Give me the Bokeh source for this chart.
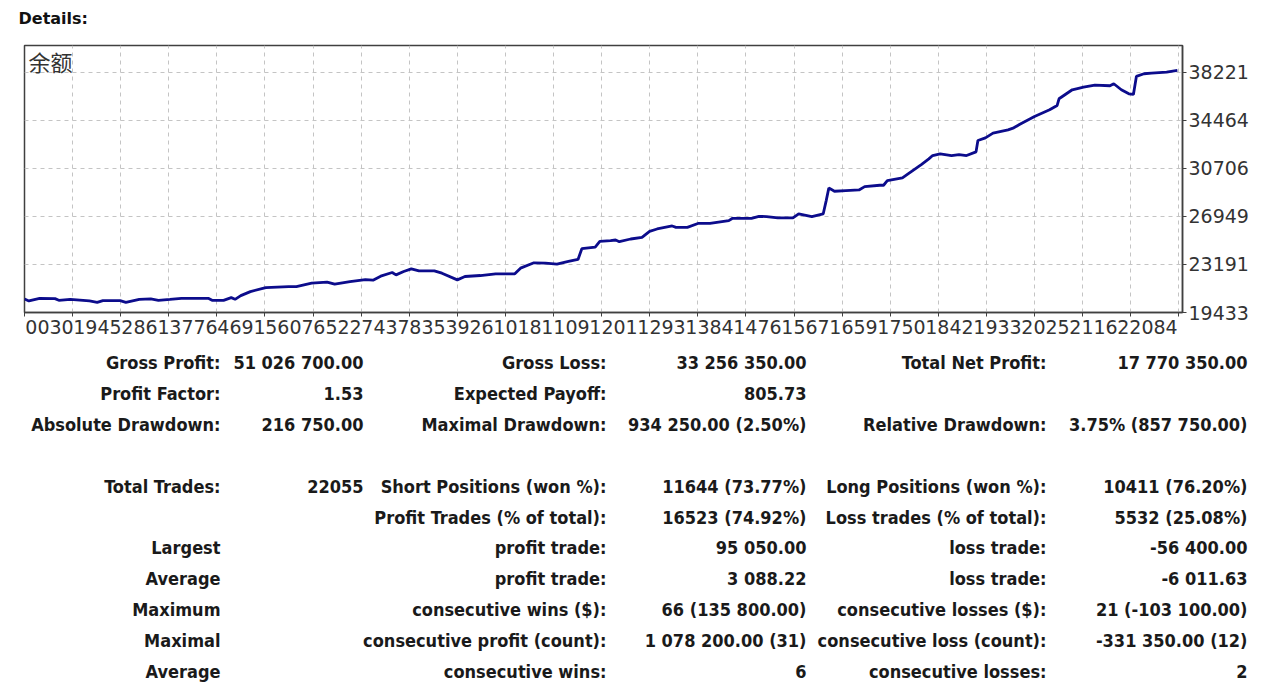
from bokeh.plotting import figure
from bokeh.models import Range1d, FixedTicker, Label, Spacer
from bokeh.layouts import column, row
from bokeh.embed import file_html
from bokeh.resources import INLINE
from bokeh.core.properties import value

# ---------------- data ----------------
trades = [0, 85, 290, 583, 657, 876, 1243, 1390, 1500, 1829, 1939, 2196, 2416, 2562,
          2782, 3002, 3515, 3588, 3808, 3955, 4028, 4138, 4321, 4615, 5054, 5201, 5494,
          5788, 5934, 6227, 6521, 6667, 6814, 7034, 7107, 7254, 7400, 7547, 7840, 7986,
          8280, 8426, 8720, 9013, 9380, 9489, 9746, 9966, 10186, 10406, 10589, 10662,
          10918, 11006, 11212, 11308, 11380, 11597, 11813, 11958, 12102, 12391, 12463,
          12680, 12896, 13113, 13474, 13546, 13907, 14051, 14196, 14412, 14701, 14810,
          15062, 15279, 15337, 15387, 15495, 15712, 15965, 16073, 16362, 16434, 16506,
          16795, 16903, 17156, 17300, 17373, 17517, 17734, 17878, 18022, 18203, 18239,
          18383, 18528, 18816, 18925, 19033, 19322, 19611, 19755, 19791, 20044, 20260,
          20477, 20766, 20838, 20983, 21127, 21214, 21271, 21416, 21560, 21849, 22055]
balance = [20491, 20334, 20543, 20517, 20386, 20464, 20334, 20229, 20360, 20360, 20229,
           20464, 20491, 20386, 20464, 20543, 20543, 20386, 20386, 20595, 20464, 20752,
           21067, 21381, 21459, 21459, 21721, 21800, 21643, 21852, 22009, 21957, 22271,
           22559, 22376, 22637, 22847, 22690, 22690, 22507, 21983, 22245, 22323, 22454,
           22454, 22899, 23318, 23292, 23213, 23423, 23580, 24417, 24548, 24993, 25046,
           25100, 24969, 25178, 25309, 25779, 25961, 26196, 26091, 26091, 26404, 26404,
           26613, 26795, 26795, 26952, 26926, 26822, 26822, 27135, 26926, 27135, 28178,
           29170, 28909, 28961, 29013, 29274, 29378, 29378, 29744, 29953, 30266, 30996,
           31440, 31701, 31831, 31701, 31779, 31701, 31988, 32875, 33084, 33449, 33710,
           33866, 34127, 34753, 35275, 35614, 36136, 36840, 37049, 37206, 37153, 37310,
           36840, 36527, 36475, 37884, 38093, 38145, 38223, 38353]

y_ticks = [19433, 23191, 26949, 30706, 34464, 38221]
x_label_chunks = ["0030", "1945", "2861", "3776", "4691", "5607", "6522", "7437", "8353",
                  "926", "1018", "1109", "1201", "1293", "1384", "1476", "1567", "1659",
                  "1750", "1842", "1933", "2025", "2116", "22084"]
last_x_label = 22084
n_x_intervals = 24

heading = "Details:"
col1_labels = ["Gross Profit:", "Profit Factor:", "Absolute Drawdown:", "", "Total Trades:",
               "", "Largest", "Average", "Maximum", "Maximal", "Average"]
col2_values = ["51 026 700.00", "1.53", "216 750.00", "", "22055", "", "", "", "", "", ""]
col3_labels = ["Gross Loss:", "Expected Payoff:", "Maximal Drawdown:", "",
               "Short Positions (won %):", "Profit Trades (% of total):", "profit trade:",
               "profit trade:", "consecutive wins ($):", "consecutive profit (count):",
               "consecutive wins:"]
col4_values = ["33 256 350.00", "805.73", "934 250.00 (2.50%)", "", "11644 (73.77%)",
               "16523 (74.92%)", "95 050.00", "3 088.22", "66 (135 800.00)",
               "1 078 200.00 (31)", "6"]
col5_labels = ["Total Net Profit:", "", "Relative Drawdown:", "", "Long Positions (won %):",
               "Loss trades (% of total):", "loss trade:", "loss trade:",
               "consecutive losses ($):", "consecutive loss (count):", "consecutive losses:"]
col6_values = ["17 770 350.00", "", "3.75% (857 750.00)", "", "10411 (76.20%)",
               "5532 (25.08%)", "-56 400.00", "-6 011.63", "21 (-103 100.00)",
               "-331 350.00 (12)", "2"]

W = 1264
T_LEFT = 1
T_W = W - 2

# ---------------- heading ----------------
H0 = 37
h = figure(width=T_W, height=H0, x_range=Range1d(T_LEFT, T_LEFT + T_W), y_range=Range1d(H0, 0),
           toolbar_location=None, output_backend="svg", min_border=0)
h.axis.visible = False
h.grid.visible = False
h.outline_line_color = None
h.text(x=[18], y=[18], text=[heading], text_align="left", text_baseline="middle",
       text_font=value("DejaVu Sans"), text_font_size="16px", text_font_style="bold",
       text_color="#111111")

# ---------------- chart ----------------
X_END = 22153
Y_END = 40300
FRAME_W = 1158

p = figure(width=W, height=307, x_range=Range1d(0, X_END), y_range=Range1d(y_ticks[0], Y_END),
           y_axis_location="right", toolbar_location=None, output_backend="svg",
           min_border_left=24, min_border_right=82, min_border_top=8, min_border_bottom=32)
p.background_fill_color = "white"
p.border_fill_color = "white"
p.outline_line_color = "#404040"
p.outline_line_width = 1.5

grid_ticks = [last_x_label / n_x_intervals * k for k in range(n_x_intervals + 1)]

p.xgrid.ticker = FixedTicker(ticks=grid_ticks)
p.ygrid.ticker = FixedTicker(ticks=y_ticks)
for g in (p.xgrid, p.ygrid):
    g.grid_line_color = "#c4c4c4"
    g.grid_line_dash = "4 4"
    g.grid_line_width = 1

p.line(trades, balance, line_color="#0c0c8c", line_width=2.8)

char_w = 12.0 * X_END / FRAME_W
centers = []
pos = 0
for s in x_label_chunks:
    centers.append(round(19 + char_w * (pos + len(s) / 2)))
    pos += len(s)

ax = p.xaxis[0]
ax.ticker = FixedTicker(ticks=centers, minor_ticks=grid_ticks)
ax.major_label_overrides = {c: s for c, s in zip(centers, x_label_chunks)}
ax.major_tick_line_color = None
ax.major_tick_out = 0
ax.major_tick_in = 0
ax.minor_tick_out = 4
ax.minor_tick_in = 0
ax.minor_tick_line_color = "#404040"
ax.major_label_standoff = 3
ax.major_label_text_font = "DejaVu Sans"
ax.major_label_text_font_size = "19px"
ax.major_label_text_color = "#333333"
ax.axis_line_color = "#404040"
ax.axis_line_width = 1.5

ay = p.yaxis[0]
ay.ticker = FixedTicker(ticks=y_ticks)
ay.major_label_text_font = "DejaVu Sans"
ay.major_label_text_font_size = "19px"
ay.major_label_text_color = "#333333"
ay.major_tick_out = 4
ay.major_tick_in = 0
ay.major_label_standoff = 2
ay.minor_tick_line_color = None
ay.axis_line_color = "#404040"
ay.axis_line_width = 1.5
ay.major_tick_line_color = "#404040"

p.add_layout(Label(x=0, y=Y_END, x_offset=4, y_offset=1, text="余额",
                   text_font="Noto Sans CJK SC", text_font_size="22px",
                   text_baseline="top", text_color="#333333"))

# ---------------- statistics table ----------------
H2 = 340
t = figure(width=T_W, height=H2, x_range=Range1d(T_LEFT, T_LEFT + T_W), y_range=Range1d(H2, 0),
           toolbar_location=None, output_backend="svg", min_border=0)
t.axis.visible = False
t.grid.visible = False
t.outline_line_color = None

rows_y = [18 + 30.9 * i for i in range(len(col1_labels))]
col_right = [220, 363, 606, 806, 1046, 1247]
for xr, texts in zip(col_right, [col1_labels, col2_values, col3_labels, col4_values,
                                  col5_labels, col6_values]):
    keep = [i for i, s in enumerate(texts) if s]
    t.text(x=[xr] * len(keep), y=[rows_y[i] for i in keep], text=[texts[i] for i in keep],
           text_align="right", text_baseline="middle",
           text_font=value("DejaVu Sans Condensed"), text_font_size="18px",
           text_font_style="bold", text_color="#1a1a1a")

layout = column(row(Spacer(width=T_LEFT, height=H0), h), p,
                row(Spacer(width=T_LEFT, height=H2), t))
open("out.html", "w").write(file_html(layout, INLINE))
